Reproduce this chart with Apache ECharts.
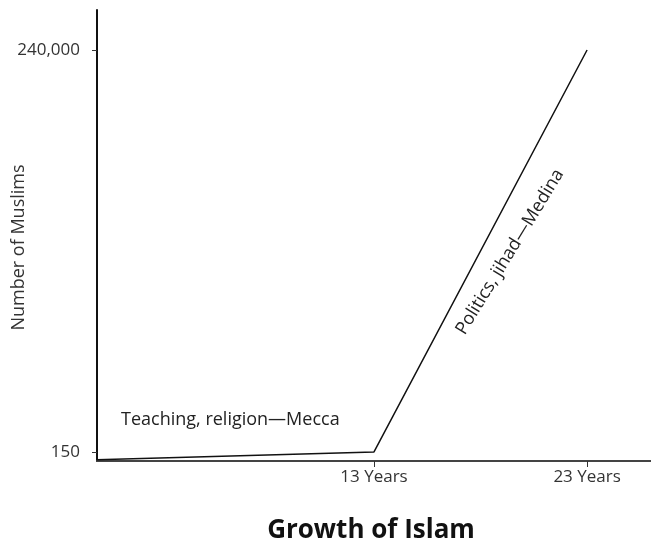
<!DOCTYPE html>
<html><head><meta charset="utf-8">
<script src="https://cdn.jsdelivr.net/npm/echarts@6/dist/echarts.min.js"></script>
<style>html,body{margin:0;padding:0;background:#fff}#c{width:651px;height:552px}</style>
</head><body><div id="c"></div>
<script>
const years = [0, 13, 23];
const muslims = [130, 150, 240000];
const xTicks = [13, 23];
const yTicks = [150, 240000];
const font = '"Open Sans", "Noto Sans", sans-serif';
const chart = echarts.init(document.getElementById('c'), null, {renderer: 'canvas'});
chart.setOption({
  animation: false,
  backgroundColor: '#fff',
  title: {
    text: 'Growth of Islam', left: 366, top: 513, textAlign: 'center',
    textStyle: {fontFamily: font, fontWeight: 'bold', fontSize: 26, color: '#111'}
  },
  grid: {left: 97, right: 0, top: 10, bottom: 91, containLabel: false, outerBoundsMode: 'none'},
  xAxis: {
    type: 'value', min: 0, max: 26,
    axisLine: {lineStyle: {color: '#444', width: 2}},
    axisTick: {customValues: xTicks, length: 6, lineStyle: {color: '#333', width: 1}},
    axisLabel: {customValues: xTicks, formatter: '{value} Years', fontFamily: font, fontSize: 17, color: '#333', margin: 8},
    splitLine: {show: false}
  },
  yAxis: {
    type: 'log', min: 127, max: 500000,
    name: 'Number of Muslims', nameLocation: 'middle', nameGap: 69, nameRotate: 90, nameMoveOverlap: false,
    nameTextStyle: {fontFamily: font, fontSize: 18, color: '#333', padding: [0, 24, 0, 0]},
    axisLine: {show: true, lineStyle: {color: '#111', width: 2}},
    axisTick: {customValues: yTicks, length: 5, lineStyle: {color: '#333'}},
    axisLabel: {customValues: yTicks, fontFamily: font, fontSize: 17, color: '#333', margin: 17,
      formatter: v => Math.round(v).toLocaleString('en-US')},
    splitLine: {show: false}
  },
  series: [{
    type: 'line', data: years.map((y, i) => [y, muslims[i]]),
    symbol: 'none', lineStyle: {color: '#111', width: 1.5}
  }],
  graphic: [
    {type: 'text', left: 121, top: 411, style: {text: 'Teaching, religion\u2014Mecca', font: '18px ' + font, fill: '#222'}},
    {type: 'text', x: 510, y: 252, rotation: 58.5 * Math.PI / 180,
     style: {text: 'Politics, jihad\u2014Medina', font: '18px ' + font, fill: '#222', align: 'center', verticalAlign: 'middle'}}
  ]
});
</script></body></html>
